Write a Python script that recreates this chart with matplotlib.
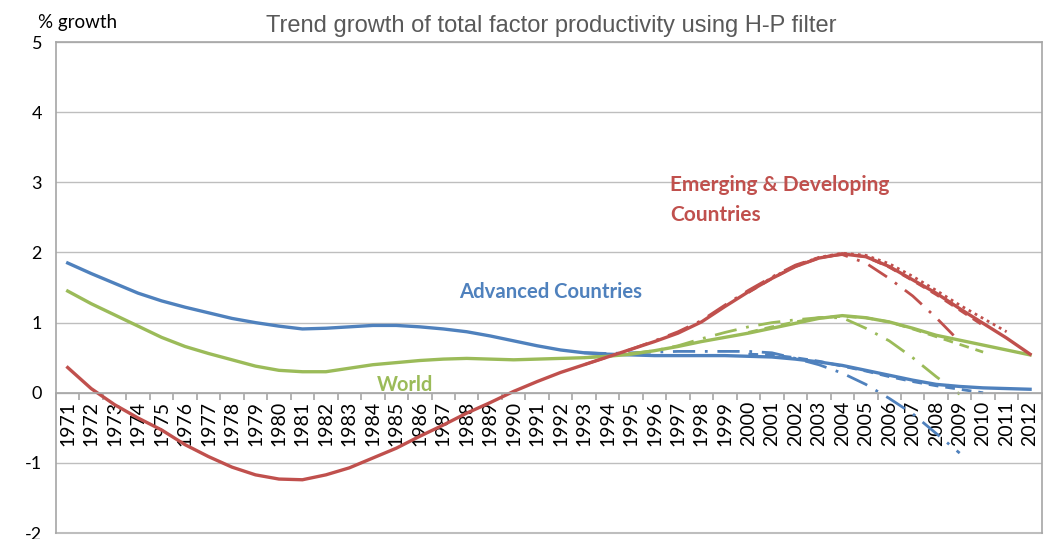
import numpy as np
import matplotlib
matplotlib.use('Agg')
import matplotlib.pyplot as plt

# trend growth of TFP (H-P filter), % per year
years = list(range(1971, 2013))

advanced = [1.85, 1.70, 1.56, 1.42, 1.31, 1.22, 1.14, 1.06, 1.00, 0.95,
            0.91, 0.92, 0.94, 0.96, 0.96, 0.94, 0.91, 0.87, 0.81, 0.74,
            0.67, 0.61, 0.57, 0.55, 0.54, 0.53, 0.53, 0.53, 0.53, 0.52,
            0.51, 0.48, 0.44, 0.39, 0.32, 0.25, 0.18, 0.12, 0.09, 0.07,
            0.06, 0.05]
world = [1.45, 1.27, 1.11, 0.95, 0.79, 0.66, 0.56, 0.47, 0.38, 0.32,
         0.30, 0.30, 0.35, 0.40, 0.43, 0.46, 0.48, 0.49, 0.48, 0.47,
         0.48, 0.49, 0.50, 0.52, 0.55, 0.60, 0.66, 0.73, 0.79, 0.85,
         0.92, 0.99, 1.06, 1.10, 1.07, 1.01, 0.92, 0.82, 0.75, 0.68,
         0.61, 0.54]
emerging = [0.36, 0.06, -0.17, -0.36, -0.53, -0.74, -0.91, -1.06, -1.17, -1.23,
            -1.24, -1.17, -1.07, -0.93, -0.79, -0.62, -0.46, -0.29, -0.14, 0.02,
            0.16, 0.29, 0.40, 0.51, 0.62, 0.73, 0.85, 1.01, 1.23, 1.44,
            1.63, 1.80, 1.92, 1.98, 1.94, 1.80, 1.61, 1.42, 1.20, 0.99,
            0.78, 0.55]

# earlier vintages of the filter (sample ending 2009 / 2010 / 2011)
yrs_2009 = list(range(1993, 2010))
adv_2009 = [0.57, 0.56, 0.57, 0.58, 0.59, 0.59, 0.59, 0.59, 0.57, 0.49,
            0.40, 0.28, 0.12, -0.08, -0.30, -0.58, -0.86]
wld_2009 = [0.50, 0.53, 0.56, 0.60, 0.67, 0.77, 0.86, 0.94, 1.00, 1.04,
            1.07, 1.07, 0.92, 0.74, 0.50, 0.23, -0.02]
emg_2009 = [0.40, 0.51, 0.62, 0.74, 0.87, 1.03, 1.25, 1.46, 1.65, 1.82,
            1.93, 1.97, 1.85, 1.63, 1.38, 1.07, 0.73]

yrs_2010 = list(range(2000, 2011))
adv_2010 = [0.55, 0.54, 0.50, 0.45, 0.38, 0.31, 0.23, 0.16, 0.10, 0.05, 0.00]
wld_2010 = [0.86, 0.94, 1.01, 1.07, 1.09, 1.07, 1.01, 0.91, 0.80, 0.69, 0.58]
emg_2010 = [1.43, 1.63, 1.80, 1.92, 1.98, 1.94, 1.79, 1.60, 1.40, 1.18, 0.96]

yrs_2011 = list(range(2000, 2012))
emg_2011 = [1.44, 1.64, 1.81, 1.93, 1.99, 1.96, 1.84, 1.66, 1.46, 1.25, 1.06, 0.87]

blue, green, red = '#4F81BD', '#9BBB59', '#C0504D'

def pos(yy):
    return [y - years[0] for y in yy]

fig = plt.figure(figsize=(10.46, 5.39), dpi=100)
ax = fig.add_axes([0.0535, 0.011, 0.9425, 0.911])

x = pos(years)
dashdot = (0, (8, 3.5, 1, 3.5))
dashed = (0, (3.5, 2.5))
dotted = (0, (1, 1.5))

ax.plot(pos(yrs_2009), adv_2009, color=blue, lw=2, ls=dashdot)
ax.plot(pos(yrs_2009), wld_2009, color=green, lw=2, ls=dashdot)
ax.plot(pos(yrs_2009), emg_2009, color=red, lw=2, ls=dashdot)
ax.plot(pos(yrs_2010), adv_2010, color=blue, lw=2, ls=dashed)
ax.plot(pos(yrs_2010), wld_2010, color=green, lw=2, ls=dashed)
ax.plot(pos(yrs_2010), emg_2010, color=red, lw=2, ls=dashed)
ax.plot(pos(yrs_2011), emg_2011, color=red, lw=2, ls=dotted)

ax.plot(x, advanced, color=blue, lw=2.4)
ax.plot(x, world, color=green, lw=2.4)
ax.plot(x, emerging, color=red, lw=2.4)

ax.set_xlim(-0.5, len(years) - 0.5)
ax.set_ylim(-2, 5)
ax.set_yticks(range(-2, 6))
ax.set_yticklabels([str(v) for v in range(-2, 6)], fontsize=13, family='Lato')
ax.tick_params(axis='y', length=0, pad=10)
ax.grid(axis='y', color='#BEBEBE', lw=1)
ax.axhline(-2, color='#BEBEBE', lw=1.5, clip_on=False)

for s in ['left', 'right', 'top']:
    ax.spines[s].set_color('#A6A6A6')
    ax.spines[s].set_linewidth(1.2)
ax.spines['bottom'].set_position(('data', 0))
ax.spines['bottom'].set_color('#A6A6A6')
ax.spines['bottom'].set_linewidth(1.2)

ax.set_xticks(x)
ax.set_xticklabels([str(y) for y in years], rotation=90, fontsize=14, family='Lato')
ax.set_xticks(np.arange(-0.5, len(years), 1), minor=True)
ax.tick_params(axis='x', which='major', length=0, pad=6)
ax.tick_params(axis='x', which='minor', length=5, color='#A6A6A6', width=1.2)

ax.text(25.65, 2.96, 'Emerging & Developing', color=red, fontsize=15,
        fontweight='bold', family='Lato', va='center', ha='left')
ax.text(25.65, 2.53, 'Countries', color=red, fontsize=15,
        fontweight='bold', family='Lato', va='center', ha='left')
ax.text(16.66, 1.44, 'Advanced Countries', color=blue, fontsize=14.6,
        fontweight='bold', family='Lato', va='center', ha='left')
ax.text(13.17, 0.11, 'World', color=green, fontsize=14.4,
        fontweight='bold', family='Lato', va='center', ha='left')

fig.text(0.527, 0.952, 'Trend growth of total factor productivity using H-P filter',
         ha='center', va='center', fontsize=17, color='#595959', family='Liberation Sans')
fig.text(0.036, 0.959, '% growth', ha='left', va='center', fontsize=13.5, family='Lato')

fig.savefig('out.png', dpi=100)
